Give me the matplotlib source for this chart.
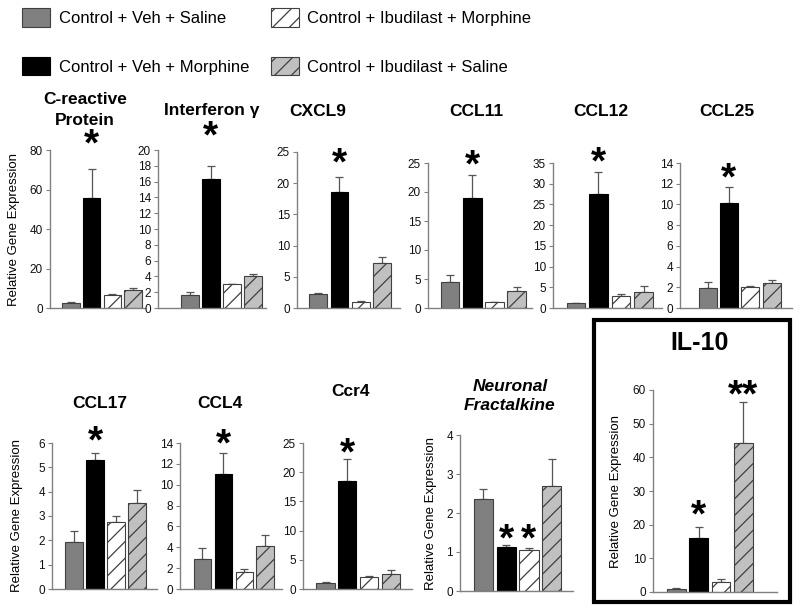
import matplotlib
matplotlib.use("Agg")
import matplotlib.pyplot as plt
from matplotlib.patches import Patch, Rectangle

plt.rcParams['font.family'] = ['Liberation Sans', 'DejaVu Sans']
plt.rcParams['hatch.linewidth'] = 0.9

# groups (legend order: column 1 then column 2)
groups = ["Control + Veh + Saline", "Control + Veh + Morphine",
          "Control + Ibudilast + Morphine", "Control + Ibudilast + Saline"]
# bar order inside each panel
bar_order = [0, 1, 2, 3]

# values: mean, upper error
crp_mean = [2.5, 55.5, 6.5, 9.0]
crp_err = [0.7, 15.0, 0.7, 1.2]
ifn_mean = [1.6, 16.3, 3.0, 4.1]
ifn_err = [0.4, 1.7, 0.05, 0.2]
cxcl9_mean = [2.3, 18.6, 1.0, 7.2]
cxcl9_err = [0.1, 2.4, 0.05, 1.0]
ccl11_mean = [4.5, 19.0, 1.0, 2.9]
ccl11_err = [1.2, 3.9, 0.05, 0.8]
ccl12_mean = [1.2, 27.5, 2.8, 3.9]
ccl12_err = [0.1, 5.3, 0.7, 1.5]
ccl25_mean = [1.9, 10.1, 2.0, 2.4]
ccl25_err = [0.6, 1.6, 0.15, 0.3]
ccl17_mean = [1.95, 5.3, 2.75, 3.55]
ccl17_err = [0.45, 0.3, 0.25, 0.5]
ccl4_mean = [2.9, 11.0, 1.6, 4.1]
ccl4_err = [1.0, 2.0, 0.35, 1.1]
ccr4_mean = [1.1, 18.5, 2.1, 2.5]
ccr4_err = [0.1, 3.8, 0.05, 0.8]
fkn_mean = [2.35, 1.13, 1.05, 2.7]
fkn_err = [0.27, 0.06, 0.04, 0.68]
il10_mean = [1.0, 15.9, 3.0, 44.3]
il10_err = [0.3, 3.3, 0.8, 12.0]

titles = ["C-reactive\nProtein", "Interferon \u03b3", "CXCL9", "CCL11", "CCL12", "CCL25",
          "CCL17", "CCL4", "Ccr4", "Neuronal\nFractalkine", "IL-10"]
y_max = [80, 20, 25, 25, 35, 14, 6, 14, 25, 4, 60]
y_step = [20, 2, 5, 5, 5, 2, 1, 2, 5, 1, 10]

# significance marks: (bar index, height, text)
stars = [
    [(1, 88, "*")],
    [(1, 23, "*")],
    [(1, 24.8, "*")],
    [(1, 26.4, "*")],
    [(1, 37.7, "*")],
    [(1, 13.5, "*")],
    [(1, 6.5, "*")],
    [(1, 14.9, "*")],
    [(1, 25, "*")],
    [(1, 1.6, "*"), (2, 1.6, "*")],
    [(1, 25.8, "*"), (3, 61.4, "**")],
]

means = [crp_mean, ifn_mean, cxcl9_mean, ccl11_mean, ccl12_mean, ccl25_mean,
         ccl17_mean, ccl4_mean, ccr4_mean, fkn_mean, il10_mean]
errs = [crp_err, ifn_err, cxcl9_err, ccl11_err, ccl12_err, ccl25_err,
        ccl17_err, ccl4_err, ccr4_err, fkn_err, il10_err]

# look of each group
fills = ['#808080', '#000000', '#ffffff', '#c0c0c0']
edges = ['#404040', '#000000', '#404040', '#404040']
hatches = [None, None, '//', '//']

W, H = 800, 610
# panel boxes in pixels: left, right, top (y_max), bottom (0); xlim in bar units
boxes = [
    (50, 145, 150, 308, -1.0, 3.57),
    (158, 266, 150, 308, -1.5, 3.62),
    (297, 400, 152, 308, -1.0, 3.85),
    (428, 532, 163, 308, -1.0, 3.7),
    (553, 662, 163, 308, -1.02, 3.82),
    (680, 792, 163, 308, -1.29, 3.95),
    (52, 157, 443, 589, -1.05, 3.95),
    (180, 282, 443, 589, -1.07, 3.8),
    (303, 412, 443, 589, -1.04, 3.98),
    (460, 573, 435, 591, -1.02, 3.93),
    (653, 777, 390, 592, -1.04, 4.5),
]
# title centres in pixels
title_pos = [(85, 110), (212, 111), (318, 111), (476, 111), (601, 111), (727, 111),
             (100, 403), (220, 403), (350, 392), (510, 396), (700, 343)]
ylabel_x = {0: 14, 6: 17, 9: 431, 10: 616}

fig = plt.figure(figsize=(8, 6.1), dpi=100)

for k in range(11):
    l, r, t, b, x0, x1 = boxes[k]
    ax = fig.add_axes([l / W, 1 - b / H, (r - l) / W, (b - t) / H])
    for i in bar_order:
        ax.bar(i, means[k][i], width=0.84, color=fills[i], edgecolor=edges[i],
               hatch=hatches[i], linewidth=0.8, zorder=2)
    ax.errorbar(bar_order, means[k], yerr=[[0] * 4, errs[k]], fmt='none',
                ecolor='#555555', elinewidth=0.9, capsize=3, capthick=0.9, zorder=1)
    for i, yv, s in stars[k]:
        ax.annotate(s, xy=(i, yv), xytext=(0, -15.5), textcoords='offset points',
                    ha='center', va='baseline', fontsize=28, fontweight='bold',
                    annotation_clip=False)
    ax.set_xlim(x0, x1)
    ax.set_ylim(0, y_max[k])
    ax.set_yticks(range(0, y_max[k] + 1, y_step[k]))
    ax.set_xticks([])
    for side in ['top', 'right']:
        ax.spines[side].set_visible(False)
    for side in ['left', 'bottom']:
        ax.spines[side].set_color('#808080')
        ax.spines[side].set_linewidth(1)
    ax.tick_params(axis='y', direction='out', length=3, width=0.8, color='#808080',
                   labelsize=8.5, labelcolor='#111111', pad=2)
    ax.patch.set_visible(False)

    tx, ty = title_pos[k]
    if k == 9:
        fig.text(tx / W, 1 - ty / H, titles[k], ha='center', va='center', fontsize=12.5,
                 fontweight='bold', fontstyle='italic', linespacing=1.3)
    elif k == 10:
        fig.text(tx / W, 1 - ty / H, titles[k], ha='center', va='center', fontsize=18,
                 fontweight='bold')
    else:
        fig.text(tx / W, 1 - ty / H, titles[k], ha='center', va='center', fontsize=12.5,
                 fontweight='bold', linespacing=1.45)
    if k in ylabel_x:
        fig.text(ylabel_x[k] / W, 1 - (t + b) / 2 / H, "Relative Gene Expression",
                 rotation=90, ha='center', va='center', fontsize=9.5)

# box round the IL-10 panel
fig.add_artist(Rectangle((594 / W, 1 - 602 / H), (790 - 594) / W, (602 - 320) / H,
                         transform=fig.transFigure, fill=False, linewidth=3,
                         edgecolor='black'))

handles = [Patch(facecolor=fills[i], edgecolor=edges[i], hatch=hatches[i],
                 linewidth=0.8, label=groups[i]) for i in range(4)]
fig.legend(handles=handles, loc='upper left', bbox_to_anchor=(22 / W, 1 - 8 / H),
           ncol=2, frameon=False, fontsize=12, handlelength=1.7, handleheight=1.35,
           handletextpad=0.5, columnspacing=1.3, labelspacing=1.8,
           borderpad=0, borderaxespad=0)

fig.savefig("out.png", dpi=100)
